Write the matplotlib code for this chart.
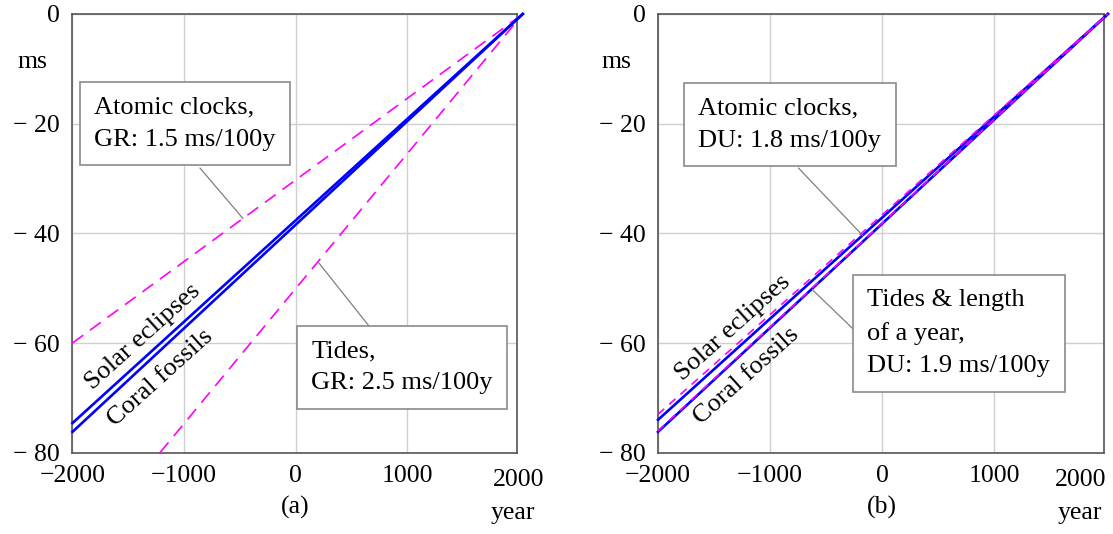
import numpy as np
import matplotlib.pyplot as plt

plt.rcParams['font.family'] = ['Liberation Serif', 'DejaVu Serif']
plt.rcParams['font.size'] = 18.5

# painel (a): retas que se encontram perto de (2035, 0)
anos_a = [-2000, 2035]
solar_a = [-74.6, 0]
coral_a = [-76.2, 0]
relogio_gr_a = [-60.0, 0]
anos_mare_a = [-1216, 2035]
mare_gr_a = [-80, 0]

# painel (b): retas que se encontram perto de (2015, 0)
anos_b = [-2000, 2015]
solar_b = [-74.0, 0]
coral_b = [-76.2, 0]
relogio_du_b = [-73.0, 0]
mare_du_b = [-76.0, 0]

xticks = [-2000, -1000, 0, 1000]
xlabels = ['\u22122000', '\u22121000', '0', '1000']
yticks = [0, -20, -40, -60, -80]
ylabels = ['0', '\u2212 20', '\u2212 40', '\u2212 60', '\u2212 80']

# caixas de texto: (ano, ms) do centro, linha de ligacao (ano0, ms0, ano1, ms1)
caixas_a = [
    ('Atomic clocks,\nGR: 1.5 ms/100y', -992, -20.0, (-857, -28.1, -472, -37.3)),
    ('Tides,\nGR: 2.5 ms/100y', 952, -64.4, (657, -56.9, 200, -45.2)),
]
caixas_b = [
    ('Atomic clocks,\nDU: 1.8 ms/100y', -826, -20.2, (-746, -28.1, -173, -40.4)),
    ('Tides & length\nof a year,\nDU: 1.9 ms/100y', 685, -58.2, (-235, -57.9, -621, -50.3)),
]
rotulos_a = [('Solar eclipses', -1368, -58.9), ('Coral fossils', -1216, -66.4)]
rotulos_b = [('Solar eclipses', -1330, -57.3), ('Coral fossils', -1214, -66.0)]

azul = '#0000ff'
magenta = '#ff00ff'

fig = plt.figure(figsize=(11.13, 5.34), dpi=100)
ax1 = fig.add_axes([0.0651, 0.1522, 0.3991, 0.8216])
ax2 = fig.add_axes([0.5912, 0.1522, 0.4007, 0.8216])


def eixo(ax, letra, x_2000, x_year, x_ms):
    ax.set_xlim(-2000, 1980)
    ax.set_ylim(-80, 0)
    ax.set_xticks(xticks, xlabels)
    ax.set_yticks(yticks, ylabels)
    ax.tick_params(length=0, pad=9)
    ax.grid(color='#cfcfcf', lw=1.0)
    ax.set_axisbelow(True)
    for s in ax.spines.values():
        s.set_color('#555555')
        s.set_linewidth(1.2)
    tr = ax.get_xaxis_transform()
    ax.text(x_2000, -0.062, '2000', transform=ax.transAxes, ha='center', va='center')
    ax.text(0, -0.124, letra, transform=tr, ha='center', va='center')
    ax.text(x_year, -0.137, 'year', transform=ax.transAxes, ha='center', va='center')
    ax.text(x_ms, 0.891, 'ms', transform=ax.transAxes, ha='center', va='center')


def caixas(ax, lista, rotulos):
    for txt, x, y, lig in lista:
        ax.plot([lig[0], lig[2]], [lig[1], lig[3]], color='#808080', lw=0.9, zorder=4)
        ax.text(x, y, txt, ha='center', va='center', multialignment='left',
                linespacing=1.6, fontsize=19, zorder=6,
                bbox=dict(boxstyle='square,pad=0.55', fc='white', ec='#8a8a8a', lw=1.2))
    for txt, x, y in rotulos:
        ax.text(x, y, txt, rotation=42, rotation_mode='anchor',
                ha='center', va='center', fontsize=19, zorder=6)


eixo(ax1, '(a)', 1.005, 0.992, -0.091)
ax1.plot(anos_a, relogio_gr_a, color=magenta, lw=1.2, dashes=(8, 5), clip_on=False, zorder=3)
ax1.plot(anos_mare_a, mare_gr_a, color=magenta, lw=1.2, dashes=(8, 5), clip_on=False, zorder=3)
ax1.plot(anos_a, solar_a, color=azul, lw=1.9, clip_on=False, zorder=3)
ax1.plot(anos_a, coral_a, color=azul, lw=1.9, clip_on=False, zorder=3)
caixas(ax1, caixas_a, rotulos_a)

eixo(ax2, '(b)', 0.948, 0.946, -0.094)
ax2.plot(anos_b, solar_b, color=azul, lw=1.9, clip_on=False, zorder=3)
ax2.plot(anos_b, coral_b, color=azul, lw=1.9, clip_on=False, zorder=3)
ax2.plot(anos_b, relogio_du_b, color=magenta, lw=1.2, dashes=(5, 4), clip_on=False, zorder=3)
ax2.plot(anos_b, mare_du_b, color=magenta, lw=1.2, dashes=(5, 4), clip_on=False, zorder=3)
caixas(ax2, caixas_b, rotulos_b)

fig.savefig('out.png', dpi=100)
